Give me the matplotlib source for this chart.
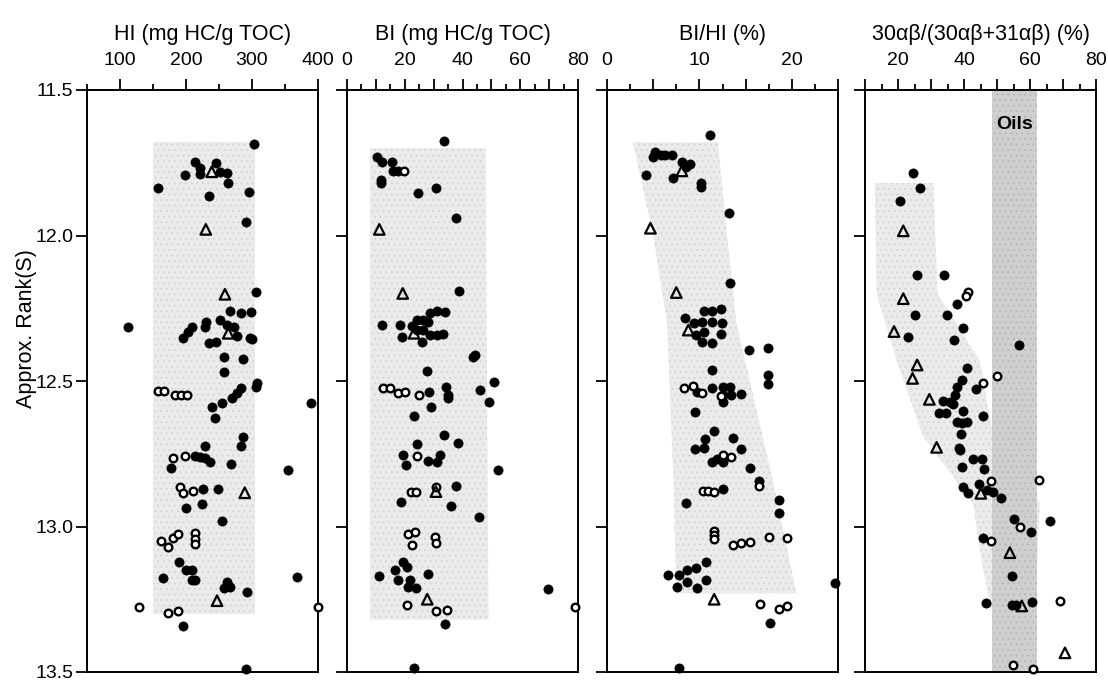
import matplotlib
matplotlib.use("Agg")
import matplotlib.pyplot as plt
from matplotlib.ticker import MultipleLocator

plt.rcParams['font.family'] = ['Liberation Sans', 'DejaVu Sans']
plt.rcParams['hatch.linewidth'] = 0.6

# rank axis
rank_ticks = [11.5, 12.0, 12.5, 13.0, 13.5]

# HI (mg HC/g TOC)
hi_solid = [(303, 11.687), (214, 11.746), (221, 11.769), (246, 11.752), (198, 11.792), (221, 11.789),
            (251, 11.781), (262, 11.784), (263, 11.821), (157, 11.838), (235, 11.864), (296, 11.852),
            (291, 11.954), (306, 12.193), (267, 12.258), (284, 12.267), (298, 12.264), (112, 12.314),
            (231, 12.296), (251, 12.290), (262, 12.308), (272, 12.313), (209, 12.313), (203, 12.330),
            (229, 12.313), (195, 12.353), (277, 12.344), (297, 12.351), (300, 12.355), (235, 12.37),
            (246, 12.365), (258, 12.416), (287, 12.425), (258, 12.47), (307, 12.508), (306, 12.522),
            (284, 12.525), (277, 12.542), (269, 12.559), (254, 12.574), (240, 12.59), (244, 12.626),
            (390, 12.577), (287, 12.691), (284, 12.722), (229, 12.722), (214, 12.758), (221, 12.762),
            (229, 12.766), (236, 12.78), (268, 12.786), (177, 12.8), (354, 12.806), (226, 12.872),
            (249, 12.872), (200, 12.935), (225, 12.923), (255, 12.981), (189, 13.121), (200, 13.149),
            (209, 13.149), (165, 13.176), (209, 13.184), (214, 13.184), (262, 13.19), (264, 13.20),
            (257, 13.21), (267, 13.209), (292, 13.226), (368, 13.172), (196, 13.341), (291, 13.489)]
hi_open = [(158, 12.534), (166, 12.533), (183, 12.548), (193, 12.548), (201, 12.548), (181, 12.766),
           (199, 12.757), (191, 12.863), (196, 12.884), (211, 12.877), (162, 13.049), (172, 13.069),
           (180, 13.04), (188, 13.026), (213, 13.021), (213, 13.044), (213, 13.061), (129, 13.276),
           (173, 13.298), (188, 13.29), (400, 13.278)]
hi_tri = [(239, 11.781), (230, 11.979), (259, 12.202), (264, 12.336), (289, 12.884), (247, 13.255)]

# BI (mg HC/g TOC)
bi_solid = [(33.7, 11.676), (10.3, 11.731), (12.0, 11.746), (15.5, 11.746), (16.0, 11.777), (17.8, 11.778),
            (11.7, 11.809), (11.7, 11.82), (24.7, 11.853), (30.7, 11.838), (37.6, 11.941), (38.8, 12.19),
            (12.0, 12.308), (18.4, 12.307), (18.9, 12.348), (24.1, 12.29), (26.4, 12.29), (28.7, 12.267),
            (31.1, 12.258), (33.9, 12.264), (24.1, 12.325), (26.4, 12.325), (28.2, 12.296), (22.5, 12.31),
            (25.9, 12.365), (28.7, 12.342), (31.1, 12.342), (33.4, 12.34), (43.7, 12.416), (44.3, 12.41),
            (27.8, 12.464), (51.0, 12.502), (46.1, 12.531), (28.4, 12.539), (34.3, 12.519), (35.1, 12.548),
            (35.1, 12.56), (49.2, 12.571), (29.1, 12.59), (23.2, 12.62), (33.6, 12.686), (38.3, 12.714),
            (24.4, 12.716), (19.3, 12.754), (20.4, 12.789), (28.2, 12.775), (31.1, 12.78), (32.2, 12.754),
            (52.4, 12.806), (37.7, 12.86), (18.6, 12.917), (35.9, 12.93), (45.7, 12.968), (19.5, 13.121),
            (20.7, 13.138), (16.6, 13.149), (17.8, 13.184), (11.2, 13.17), (21.8, 13.184), (21.2, 13.207),
            (23.9, 13.212), (27.9, 13.163), (69.7, 13.216), (33.9, 13.335), (23.2, 13.485)]
bi_open = [(19.9, 11.777), (12.6, 12.525), (14.9, 12.525), (17.8, 12.542), (20.1, 12.539), (24.9, 12.548),
           (24.1, 12.758), (22.1, 12.88), (23.9, 12.88), (30.8, 12.865), (21.2, 13.026), (23.5, 13.018),
           (22.4, 13.064), (30.5, 13.035), (30.8, 13.058), (20.7, 13.271), (30.7, 13.29), (34.5, 13.287),
           (79.0, 13.276)]
bi_tri = [(11.2, 11.979), (19.3, 12.199), (23.2, 12.336), (30.8, 12.88), (27.8, 13.25)]

# BI/HI (%)
bihi_solid = [(11.1, 11.655), (5.2, 11.712), (5.8, 11.723), (6.3, 11.723), (7.0, 11.723), (5.0, 11.729),
              (8.1, 11.746), (9.0, 11.755), (8.5, 11.763), (4.2, 11.792), (7.1, 11.804), (10.2, 11.821),
              (10.2, 11.834), (13.2, 11.921), (13.3, 12.162), (10.5, 12.258), (11.4, 12.258), (12.3, 12.254),
              (8.4, 12.284), (9.4, 12.302), (10.3, 12.296), (11.4, 12.296), (12.4, 12.302), (9.6, 12.342),
              (10.5, 12.33), (12.3, 12.338), (10.3, 12.365), (11.4, 12.368), (15.4, 12.393), (17.4, 12.388),
              (11.4, 12.462), (17.4, 12.479), (17.4, 12.51), (9.7, 12.539), (11.4, 12.525), (12.5, 12.522),
              (13.3, 12.522), (12.5, 12.548), (12.6, 12.571), (13.4, 12.548), (14.5, 12.545), (9.5, 12.608),
              (11.6, 12.671), (10.6, 12.7), (13.6, 12.697), (9.5, 12.734), (10.5, 12.731), (14.5, 12.735),
              (11.4, 12.777), (11.9, 12.769), (12.6, 12.78), (15.5, 12.8), (16.5, 12.844), (12.6, 12.872),
              (8.6, 12.918), (18.6, 12.909), (18.6, 12.955), (10.7, 13.121), (6.6, 13.167), (7.8, 13.167),
              (8.7, 13.149), (9.6, 13.144), (8.7, 13.19), (7.6, 13.207), (10.7, 13.184), (9.7, 13.212),
              (24.7, 13.193), (17.6, 13.333), (7.8, 13.487)]
bihi_open = [(8.3, 12.525), (9.3, 12.517), (10.3, 12.542), (12.3, 12.553), (12.5, 12.754), (13.4, 12.76),
             (16.5, 12.861), (10.4, 12.878), (10.9, 12.878), (11.6, 12.88), (11.6, 13.015), (11.6, 13.03),
             (11.6, 13.044), (13.6, 13.064), (14.5, 13.058), (15.5, 13.052), (17.5, 13.035), (19.5, 13.04),
             (16.6, 13.266), (18.6, 13.285), (19.5, 13.273)]
bihi_tri = [(8.1, 11.778), (4.7, 11.975), (7.5, 12.196), (8.8, 12.325), (11.6, 13.25)]

# 30ab/(30ab+31ab) (%)
hop_solid = [(24.6, 11.786), (26.7, 11.838), (20.6, 11.88), (25.8, 12.136), (34.0, 12.136), (38.0, 12.235),
             (25.2, 12.273), (34.8, 12.273), (23.1, 12.35), (39.8, 12.319), (37.0, 12.359), (56.8, 12.376),
             (40.8, 12.456), (39.3, 12.497), (43.6, 12.529), (37.8, 12.52), (37.3, 12.548), (33.7, 12.568),
             (35.8, 12.571), (36.8, 12.578), (32.5, 12.611), (34.5, 12.611), (39.8, 12.602), (45.8, 12.619),
             (37.8, 12.64), (39.3, 12.643), (40.8, 12.64), (39.0, 12.683), (38.6, 12.729), (38.8, 12.737),
             (42.8, 12.769), (45.4, 12.769), (46.1, 12.803), (39.3, 12.794), (44.6, 12.854), (39.6, 12.863),
             (41.3, 12.886), (46.9, 12.875), (48.7, 12.88), (51.2, 12.903), (55.1, 12.975), (60.2, 13.02),
             (66.1, 12.981), (45.7, 13.038), (54.6, 13.169), (46.7, 13.264), (54.4, 13.27), (55.7, 13.27),
             (60.5, 13.258)]
hop_open = [(41.3, 12.193), (40.6, 12.208), (49.9, 12.483), (45.7, 12.508), (62.8, 12.84), (48.2, 12.843),
            (57.0, 13.0), (48.2, 13.049), (69.1, 13.256), (54.8, 13.476), (60.8, 13.49)]
hop_tri = [(21.6, 11.984), (21.6, 12.217), (18.8, 12.33), (25.8, 12.445), (24.4, 12.491), (29.5, 12.563),
           (31.7, 12.728), (45.1, 12.886), (53.9, 13.09), (57.5, 13.273), (70.6, 13.434)]

# shaded trend envelopes (rank, left, right)
hi_band = [(11.68, 150, 305), (13.3, 150, 305)]
bi_band = [(11.70, 8, 48), (13.32, 8, 49)]
bihi_band = [(11.68, 2.8, 12), (12.0, 5, 13), (12.3, 6.5, 14), (12.85, 7.2, 18), (13.23, 7.5, 20.5)]
hop_band = [(11.82, 13, 30.7), (12.2, 13.5, 32), (12.43, 19.6, 44.8), (12.69, 27.6, 48.8),
            (12.92, 42.7, 63), (13.15, 45.8, 62), (13.43, 51, 61)]
oils_range = (48.4, 62)

panels = [
    dict(title="HI (mg HC/g TOC)", xlim=(50, 400), major=100, minor=50,
         labels=[100, 200, 300, 400], solid=hi_solid, opn=hi_open, tri=hi_tri, band=hi_band),
    dict(title="BI (mg HC/g TOC)", xlim=(0, 80), major=10, minor=5,
         labels=[0, 20, 40, 60, 80], solid=bi_solid, opn=bi_open, tri=bi_tri, band=bi_band),
    dict(title="BI/HI (%)", xlim=(0, 25), major=5, minor=2.5,
         labels=[0, 10, 20], solid=bihi_solid, opn=bihi_open, tri=bihi_tri, band=bihi_band),
    dict(title="30\u03b1\u03b2/(30\u03b1\u03b2+31\u03b1\u03b2) (%)", xlim=(10, 80), major=10, minor=5,
         labels=[20, 40, 60, 80], solid=hop_solid, opn=hop_open, tri=hop_tri, band=hop_band),
]

lefts = [87, 347, 607, 865]
W, H = 1108, 682

fig = plt.figure(figsize=(W / 100, H / 100), dpi=100)

for i, p in enumerate(panels):
    ax = fig.add_axes([lefts[i] / W, 10 / H, 231 / W, 582 / H])
    ax.set_xlim(*p["xlim"])
    ax.set_ylim(13.5, 11.5)

    r = [b[0] for b in p["band"]]
    ax.fill_betweenx(r, [b[1] for b in p["band"]], [b[2] for b in p["band"]],
                     facecolor="#ebebeb", edgecolor="#d2d2d2", hatch="...", lw=0, zorder=0)
    if i == 3:
        ax.axvspan(*oils_range, facecolor="#cfcfcf", edgecolor="#b5b5b5", hatch="...",
                   lw=0, zorder=0.5)
        ax.text(sum(oils_range) / 2, 11.62, "Oils", ha="center", va="center",
                fontsize=14, fontweight="bold", zorder=1)

    ax.scatter([d[0] for d in p["solid"]], [d[1] for d in p["solid"]], s=44, c="black",
               edgecolors="black", linewidths=0.5, zorder=3, clip_on=False)
    ax.scatter([d[0] for d in p["opn"]], [d[1] for d in p["opn"]], s=30, facecolors="white",
               edgecolors="black", linewidths=1.7, zorder=3, clip_on=False)
    ax.scatter([d[0] for d in p["tri"]], [d[1] for d in p["tri"]], s=58, marker="^",
               facecolors="none", edgecolors="black", linewidths=1.6, zorder=3, clip_on=False)

    ax.xaxis.set_major_locator(MultipleLocator(p["major"]))
    ax.xaxis.set_minor_locator(MultipleLocator(p["minor"]))
    ax.xaxis.set_major_formatter(plt.FuncFormatter(
        lambda v, pos, labs=p["labels"]: "%g" % v if any(abs(v - l) < 1e-6 for l in labs) else ""))
    ax.xaxis.tick_top()
    ax.xaxis.set_label_position("top")
    ax.tick_params(axis="x", which="major", direction="out", length=8, width=1.3,
                   labelsize=14, pad=7)
    ax.tick_params(axis="x", which="minor", direction="out", length=4, width=1.3)
    ax.set_xlabel(p["title"], fontsize=15.5, labelpad=9)

    ax.set_yticks(rank_ticks)
    ax.tick_params(axis="y", direction="out", length=8, width=1.3, labelsize=14,
                   labelleft=(i == 0), pad=2)
    if i == 0:
        ax.set_yticklabels(["%.1f" % t for t in rank_ticks])
        ax.set_ylabel("Approx. Rank(S)", fontsize=15.5)
        ax.yaxis.set_label_coords(-0.215, 0.59)

    for s in ax.spines.values():
        s.set_linewidth(1.4)

fig.savefig("out.png", dpi=100)
